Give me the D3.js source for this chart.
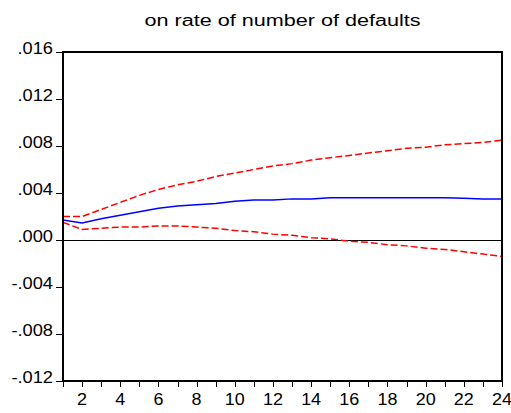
<!DOCTYPE html>
<html>
<head>
<meta charset="utf-8">
<script src="https://cdn.jsdelivr.net/npm/d3@7"></script>
<style>
  body { margin: 0; background: #fff; }
  text { font-family: "Liberation Sans", Arial, sans-serif; }
</style>
</head>
<body>
<script>
// periods and responses
const periods = d3.range(1, 25);
const response = [.0017, .00145, .0018, .0021, .0024, .0027, .0029, .0030, .0031, .0033, .0034, .0034,
  .0035, .0035, .0036, .0036, .0036, .0036, .0036, .0036, .0036, .00355, .0035, .0035];
const upper = [.0020, .0020, .0026, .0032, .0038, .0043, .0047, .0050, .0054, .0057, .0060, .0063,
  .0065, .0068, .0070, .0072, .0074, .0076, .0078, .0079, .0081, .0082, .0083, .0085];
const lower = [.0015, .0009, .0010, .0011, .0011, .0012, .0012, .0011, .0010, .0008, .0007, .0005,
  .0004, .0002, .0001, -.0001, -.0002, -.0004, -.0005, -.0007, -.0008, -.0010, -.0012, -.0014];
const yTicks = [-.012, -.008, -.004, 0, .004, .008, .012, .016];
const xLabels = [2, 4, 6, 8, 10, 12, 14, 16, 18, 20, 22, 24];
const title = "on rate of number of defaults";

const width = 511, height = 413;
const m = { left: 63, right: 502, top: 52, bottom: 381 };

const svg = d3.select("body").append("svg")
  .attr("width", width)
  .attr("height", height);

const x = d3.scaleLinear().domain([1, 24]).range([m.left, m.right]);
const y = d3.scaleLinear().domain([-.012, .016]).range([m.bottom, m.top]);

const fmt = v => v === 0 ? ".000" : (v < 0 ? "-" : "") + d3.format(".3f")(Math.abs(v)).slice(1);
const crisp = v => Math.round(v) + 0.5;

// the original glyphs are a bit wider than Liberation Sans
function widen(sel, k) {
  sel.each(function() {
    const w = this.getComputedTextLength();
    d3.select(this).attr("textLength", w * k).attr("lengthAdjust", "spacingAndGlyphs");
  });
}

// title
svg.append("text")
  .attr("x", (m.left + m.right) / 2)
  .attr("y", 26)
  .attr("text-anchor", "middle")
  .style("font-size", "16px")
  .attr("textLength", 276)
  .attr("lengthAdjust", "spacingAndGlyphs")
  .text(title);

// zero line
svg.append("line")
  .attr("x1", m.left).attr("x2", m.right)
  .attr("y1", crisp(y(0))).attr("y2", crisp(y(0)))
  .attr("stroke", "#000").attr("stroke-width", 1);

// y axis ticks + labels
const yg = svg.append("g");
yg.selectAll("line").data(yTicks).join("line")
  .attr("x1", m.left - 7).attr("x2", m.left)
  .attr("y1", d => crisp(y(d))).attr("y2", d => crisp(y(d)))
  .attr("stroke", "#000");
yg.selectAll("text").data(yTicks).join("text")
  .attr("x", m.left - 10)
  .attr("y", d => y(d) + 2)
  .attr("text-anchor", "end")
  .style("font-size", "16px")
  .text(fmt)
  .call(widen, 1.14);

// x axis ticks + labels
const xg = svg.append("g");
xg.selectAll("line").data(periods).join("line")
  .attr("x1", d => crisp(x(d))).attr("x2", d => crisp(x(d)))
  .attr("y1", m.bottom).attr("y2", m.bottom + 6)
  .attr("stroke", "#000");
xg.selectAll("text").data(xLabels).join("text")
  .attr("x", d => x(d))
  .attr("y", 405)
  .attr("text-anchor", "middle")
  .style("font-size", "16px")
  .text(d => d)
  .call(widen, 1.12);

const line = d3.line().x((d, i) => x(periods[i])).y(d => y(d));

svg.append("path").datum(upper)
  .attr("d", line).attr("fill", "none")
  .attr("stroke", "#ff0000").attr("stroke-width", 1.5)
  .attr("stroke-dasharray", "7,3");
svg.append("path").datum(lower)
  .attr("d", line).attr("fill", "none")
  .attr("stroke", "#ff0000").attr("stroke-width", 1.5)
  .attr("stroke-dasharray", "7,3");
svg.append("path").datum(response)
  .attr("d", line).attr("fill", "none")
  .attr("stroke", "#0000ff").attr("stroke-width", 1.5);

// frame
svg.append("rect")
  .attr("x", m.left).attr("y", m.top)
  .attr("width", m.right - m.left).attr("height", m.bottom - m.top)
  .attr("fill", "none").attr("stroke", "#000").attr("stroke-width", 2);
</script>
</body>
</html>
